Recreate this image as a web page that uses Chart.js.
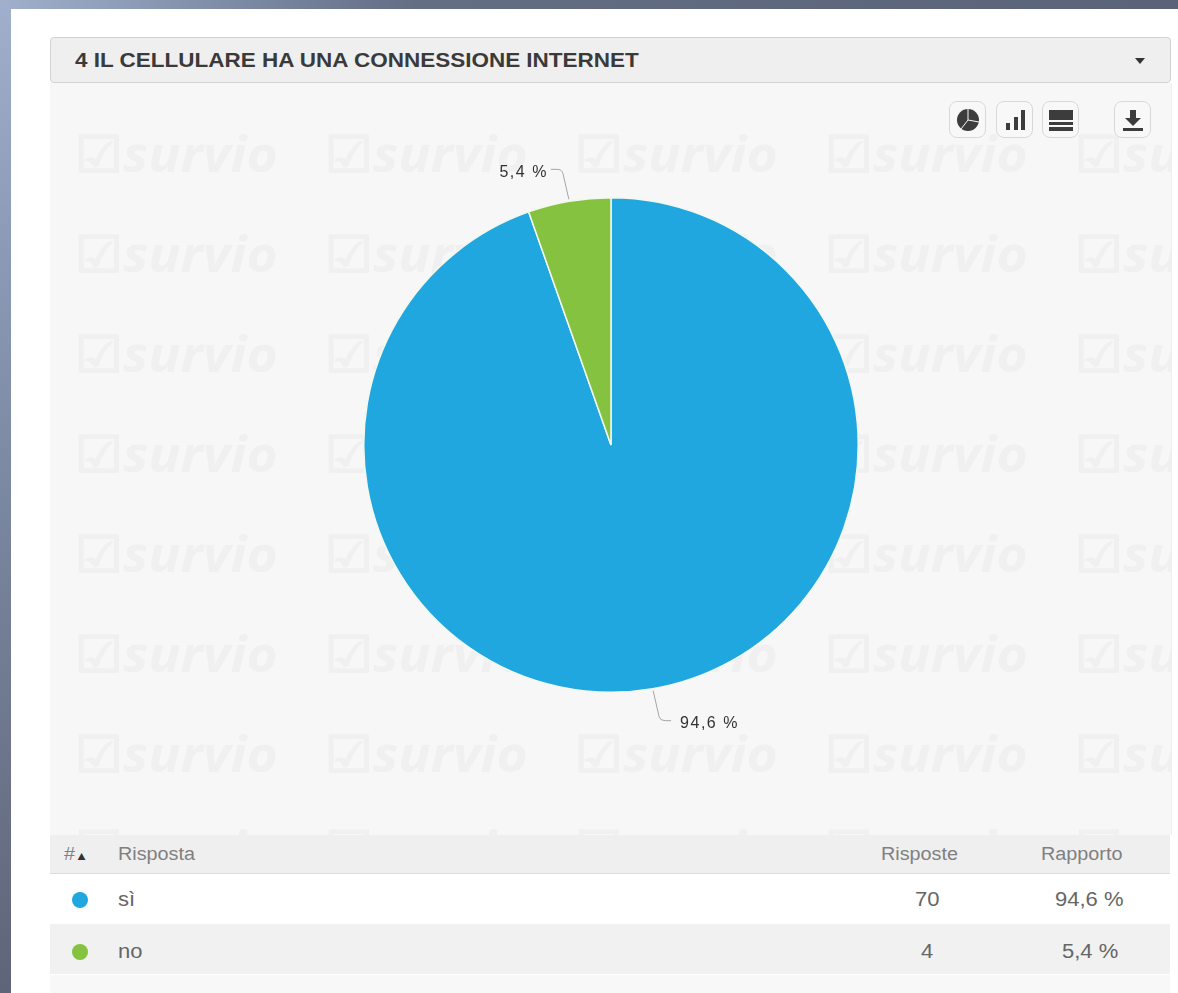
<!DOCTYPE html>
<html>
<head>
<meta charset="utf-8">
<script src="https://cdn.jsdelivr.net/npm/chart.js@4/dist/chart.umd.min.js"></script>
<style>
    html, body { margin: 0; padding: 0; }
    body {
        width: 1178px; height: 993px; overflow: hidden; position: relative;
        font-family: "Liberation Sans", Arial, sans-serif;
        background: #5c6478;
    }
    #topStrip {
        position: absolute; left: 0; top: 0; width: 1178px; height: 9px;
        background: linear-gradient(90deg, #a0b0cc 0, #7f8da8 220px, #636d84 420px, #5a6377 100%);
    }
    #leftStrip {
        position: absolute; left: 0; top: 0; width: 11px; height: 993px;
        background: linear-gradient(180deg, #a0b0cc 0, #8e9ebb 200px, #7a87a0 500px, #6a7288 800px, #5f6578 100%);
    }
    #sheet { position: absolute; left: 11px; top: 9px; width: 1167px; height: 984px; background: #fff; }
    #head {
        position: absolute; left: 50px; top: 37px; width: 1119px; height: 44px;
        background: #efefef; border: 1px solid #d2d2d2; border-radius: 4px; box-sizing: content-box;
    }
    #head span {
        position: absolute; left: 24px; top: 11px; font-size: 19.5px; font-weight: bold; color: #3a3a3a; white-space: nowrap;
        transform: scaleX(1.153); transform-origin: left;
    }
    #head i {
        position: absolute; left: 1084px; top: 20px; width: 0; height: 0;
        border: 5px solid transparent; border-top: 6px solid #333; border-bottom: 0;
    }
    #plot {
        position: absolute; left: 50px; top: 83px; width: 1121px; height: 752px;
        background: #f7f7f7; overflow: hidden; border-right: 1px solid #eee;
    }
    .mark {
        position: absolute; font-size: 50px; font-weight: bold; font-style: italic; color: #f0f0f0;
        font-family: "Open Sans", sans-serif; white-space: nowrap; line-height: 60px;
        transform: scaleX(1.07); transform-origin: left;
    }
    .mark b { font-family: "DejaVu Sans"; font-style: normal; font-weight: normal; -webkit-text-stroke: 2px #f0f0f0; }
    #chart { position: absolute; left: 50px; top: 100px; }
    .btn {
        position: absolute; top: 101px; width: 37px; height: 37px; box-sizing: border-box;
        border: 1.5px solid #d8d8d8; border-radius: 8px; background: #f8f8f8;
    }
    .btn svg { position: absolute; left: 6px; top: 6px; }
    table { position: absolute; left: 50px; top: 835px; width: 1120px; border-collapse: collapse; table-layout: fixed; }
    th { height: 38px; background: #efefef; border-bottom: 1px solid #ddd; font-weight: normal; font-size: 18px; color: #808080; padding: 0; text-align: left; }
    td { height: 50px; font-size: 20px; color: #666; padding: 0; }
    tr.odd td { background: #fff; }
    tr.even td { background: #f1f1f1; }
    .dot { display: inline-block; width: 16px; height: 16px; border-radius: 50%; vertical-align: middle; }
    .wide { display: inline-block; transform: scaleX(1.1); transform-origin: left; }
    tr.even td > * { position: relative; top: 2px; }
    #rest { position: absolute; left: 50px; top: 975px; width: 1120px; height: 18px; background: #f8f8f8; }
</style>
</head>
<body>
<div id="topStrip"></div>
<div id="leftStrip"></div>
<div id="sheet"></div>
<div id="head"><span>4 IL CELLULARE HA UNA CONNESSIONE INTERNET</span><i></i></div>
<div id="plot"></div>
<canvas id="chart" width="1122" height="690" style="width:1122px;height:690px"></canvas>

<div class="btn" style="left:949px"><svg width="24" height="24" viewBox="0 0 24 24"><circle cx="12" cy="12" r="11" fill="#3c3c3c"/><path d="M12 12L12 1M12 12L23 14M12 12L5 21" stroke="#f8f8f8" stroke-width="1"/></svg></div>
<div class="btn" style="left:996px"><svg width="24" height="24" viewBox="0 0 24 24"><rect x="3" y="15" width="4" height="7" fill="#3c3c3c"/><rect x="11" y="9" width="4" height="13" fill="#3c3c3c"/><rect x="18" y="2" width="4" height="20" fill="#3c3c3c"/></svg></div>
<div class="btn" style="left:1042px"><svg width="24" height="24" viewBox="0 0 24 24"><rect x="0" y="2" width="24" height="10" fill="#3c3c3c"/><rect x="0" y="14" width="24" height="3" fill="#3c3c3c"/><rect x="0" y="19" width="24" height="4" fill="#3c3c3c"/></svg></div>
<div class="btn" style="left:1114px"><svg width="24" height="24" viewBox="0 0 24 24"><path d="M9 2H15V10H20L12 18L4 10H9Z" fill="#3c3c3c"/><rect x="2" y="20" width="20" height="3" fill="#3c3c3c"/></svg></div>

<table id="answers">
    <colgroup><col style="width:68px"><col style="width:752px"><col style="width:150px"><col style="width:150px"></colgroup>
    <thead><tr>
        <th style="padding-left:14px"><span class="wide">#<span style="font-size:12px;color:#333">&#9650;</span></span></th>
        <th><span class="wide">Risposta</span></th>
        <th style="padding-left:11px"><span class="wide">Risposte</span></th>
        <th style="padding-left:21px"><span class="wide">Rapporto</span></th>
    </tr></thead>
    <tbody id="rows"></tbody>
</table>
<div id="rest"></div>

<script>
// Chart data
const categories = ['sì', 'no'];
const counts = [70, 4];
const shares = ['94,6 %', '5,4 %'];
const colors = ['#20a7e0', '#85c240'];

// Watermark grid, behind the pie
const markColumns = [25, 275, 525, 775, 1025];
const markRows = [40, 140, 240, 340, 440, 540, 640, 735];
const plot = document.getElementById('plot');
markRows.forEach(top => {
    markColumns.forEach(left => {
        const mark = document.createElement('div');
        mark.className = 'mark';
        mark.style.left = left + 'px';
        mark.style.top = top + 'px';
        mark.innerHTML = '<b>&#9745;</b>survio';
        plot.appendChild(mark);
    });
});

// Table rows under the chart
const rows = document.getElementById('rows');
categories.forEach((name, i) => {
    const row = document.createElement('tr');
    row.className = i % 2 === 0 ? 'odd' : 'even';
    row.innerHTML =
        `<td style="padding-left:22px"><span class="dot" style="background:${colors[i]}"></span></td>` +
        `<td><span class="wide">${name}</span></td>` +
        `<td style="padding-left:${i === 0 ? 45 : 51}px"><span class="wide">${counts[i]}</span></td>` +
        `<td style="padding-left:${i === 0 ? 35 : 42}px"><span class="wide">${shares[i]}</span></td>`;
    rows.appendChild(row);
});

// Draws the percentage labels with their bent leader lines
const sliceLabels = {
    id: 'sliceLabels',
    afterDatasetsDraw(chart) {
        const ctx = chart.ctx;
        chart.getDatasetMeta(0).data.forEach((arc, i) => {
            const { x, y, startAngle, endAngle, outerRadius } = arc.getProps(['x', 'y', 'startAngle', 'endAngle', 'outerRadius'], true);
            const mid = (startAngle + endAngle) / 2;
            const px = x + Math.cos(mid) * (outerRadius + 2);
            const py = y + Math.sin(mid) * (outerRadius + 2);
            const up = Math.sin(mid) < 0 ? -1 : 1;
            const right = Math.cos(mid) > 0 ? 1 : -1;
            const elbowX = px + right * 7;
            const elbowY = py + up * 30;
            ctx.save();
            ctx.strokeStyle = '#a5a5a5';
            ctx.lineWidth = 1;
            ctx.beginPath();
            ctx.moveTo(px, py);
            ctx.lineTo(elbowX - right * 1, elbowY - up * 4);
            ctx.quadraticCurveTo(elbowX, elbowY, elbowX + right * 5, elbowY);
            ctx.lineTo(elbowX + right * 11, elbowY);
            ctx.stroke();
            ctx.fillStyle = '#333';
            ctx.font = '16px "Liberation Sans"';
            ctx.letterSpacing = '1.5px';
            ctx.textBaseline = 'middle';
            ctx.textAlign = right > 0 ? 'left' : 'right';
            ctx.fillText(shares[i], elbowX + right * (right > 0 ? 20 : 14), elbowY + 3);
            ctx.restore();
        });
    }
};

new Chart(document.getElementById('chart').getContext('2d'), {
    type: 'pie',
    data: {
        labels: categories,
        datasets: [{
            data: counts,
            backgroundColor: colors,
            borderColor: '#f2f8ec',
            borderWidth: 1.5
        }]
    },
    options: {
        responsive: false,
        animation: false,
        layout: { padding: 97 },
        plugins: {
            legend: { display: false },
            tooltip: { enabled: false }
        }
    },
    plugins: [sliceLabels]
});
</script>
</body>
</html>
